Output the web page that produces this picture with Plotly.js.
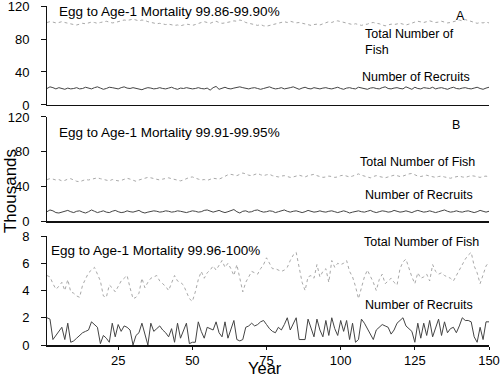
<!DOCTYPE html>
<html>
<head>
<meta charset="utf-8">
<script src="https://cdn.plot.ly/plotly-3.0.1.min.js"></script>
<style>html,body{margin:0;padding:0;background:#fff}#chart{width:500px;height:379px}</style>
</head>
<body>
<div id="chart"></div>
<script>
// Year index 1..150
const years = Array.from({length: 150}, (_, i) => i + 1);

// Panel A: mortality 99.86-99.90% (thousands)
const totalA = [
100,101,100.5,99.5,100,101,100,99,98.5,97.5,97,98,99,98.5,99.5,100.5,100,99,100,101,
101.5,100.5,99.5,100,101,102,103,102.5,103.5,104,103,102,103,102.5,101,100,99.5,98.5,99,98,
97.5,98,97,96.5,97,96,97,98,97.5,96.5,97.5,99,100,101,100,99,100.5,101.5,100,99,
99.5,100,101,102,101.5,103,102,100,99,98,97,96.5,97.5,96,95.5,96.5,97,98,99,100.5,
101,100,101.5,100.5,99.5,100,99,98,97.5,96.5,97.5,98,97,98.5,99.5,101,100,101.5,102,101,
100,99,98,97.5,98.5,97,96.5,97.5,98,99.5,100,99,98.5,97,96,97,98,97.5,98.5,99,
98,97,98,99.5,100.5,101.5,101,100,101,102,101,100,100.5,101.5,100.5,99.5,100,101,102.5,103,
102,103.5,102.5,101,100,99,100,99.5,100.5,99.5];
const recruitsA = [
20,22,21,19.5,21,20,19,20.5,19.5,20,21,19.5,20,21.5,20.5,19.5,21,22,20.5,19,
20,21.5,21,20,19.5,21,22,20.5,20,21,20,19.5,18.5,20,21,20.5,19.5,20,21,20,
19.5,20.5,21.5,20,19,20.5,20,21,20.5,19.5,20,21,20,19.5,20.5,18,21,22.5,19,20,
21.5,20,19.5,20.5,21,22,21,20,19.5,20.5,21,20,19,20,21,22,20.5,19.5,20,21,
19.5,20,21,22,20,19,20.5,21.5,20,19.5,21,20,19.5,20.5,21,20,19.5,20.5,21.5,20,
19,20.5,21,20,19.5,21.5,20.5,20,19,20.5,21,20,19.5,21,22,20,19.5,20.5,21,20,
19.5,22,20.5,19,21.5,20,19.5,21,20.5,20,21.5,19.5,20.5,21,20,19,20.5,21.5,20,19.5,
20.5,21,20,19.5,20.5,21.5,20,19,20.5,21.5];

// Panel B: mortality 99.91-99.95%
const totalB = [
48,49,48.5,47.5,48,46.5,47,48.5,49,47.5,46,45.5,46.5,48,47.5,48.5,49.5,50,49,48,
47,46.5,48,47.5,46.5,47,48,49.5,48.5,47,46,47.5,48.5,49,50.5,50,49,48,47.5,48.5,
49.5,50,49,48,47.5,46.5,47.5,49,50.5,51,49.5,48.5,47.5,48,47,48.5,49.5,49,48.5,50,
52,53.5,54,53,52.5,54,55.5,54.5,53,52.5,54,55,53.5,52.5,53.5,54,52.5,52,51,52,
52.5,51.5,50.5,51,52,53,52,51,52.5,53.5,54,52.5,51.5,50.5,51,52,51.5,50.5,51,52.5,
53,52,51,52,53.5,54.5,53,52,51,50,51.5,52.5,51.5,50.5,50,51,52,53,52.5,51.5,
52,53.5,54.5,55,53.5,52,51.5,52.5,53,52,51,50.5,51.5,52,51,50,49.5,50.5,51.5,52,
51,50.5,51.5,52.5,52,51,50.5,51.5,52,51];
const recruitsB = [
11,13,12,10,9.5,10.5,11,12.5,11,10,11.5,12,10.5,9.5,11,13,11.5,10,11,12,
10.5,10,11.5,12.5,11,10,10.5,12,11,10.5,11.5,12.5,10.5,9.5,10.5,11,12,11.5,10.5,11,
12,11.5,10.5,11,12,11.5,10.5,10,11,12,11.5,10.5,11,12.5,13,11.5,10.5,11.5,12.5,11,
10,11,12,13.5,11,9.5,11.5,12,10.5,11,12.5,13,11.5,10.5,11,12,11.5,10,11,12,
13,11.5,10.5,11.5,12,11,10,11,12.5,11.5,10.5,11,12,11,10.5,11.5,12,11,10,11,
12,11,9.5,10.5,11.5,12,11,10.5,11.5,12.5,11,10,11,12,11.5,10.5,11,12.5,11.5,10.5,
11,12,11,10,11.5,12.5,11.5,10.5,11,12,11,10,11,12,13,11.5,10.5,11,12,11,
10.5,11.5,12,11,10,11,12.5,11.5,10.5,11.5];

// Panel C: mortality 99.96-100%
const totalC = [
5.1,5.0,4.5,4.1,4.3,4.6,4.0,4.8,3.9,3.8,3.6,3.5,4.4,4.8,5.3,5.5,5.7,5.2,4.7,3.6,
3.5,4.4,4.2,3.9,4.3,4.7,4.9,5.1,4.2,3.4,3.5,3.8,4.9,4.2,4.6,4.9,5.0,5.1,4.7,4.5,
4.3,4.0,4.6,5.1,4.7,4.6,4.4,3.9,3.4,3.2,3.9,4.8,5.4,4.9,5.3,5.5,5.8,5.5,5.9,6.2,
5.7,6.0,5.6,5.1,5.9,4.8,3.9,4.6,5.0,5.4,5.3,5.2,5.6,5.9,6.4,6.0,5.6,5.6,5.5,5.4,
5.5,5.7,6.2,6.6,6.8,5.6,4.6,4.0,5.0,5.1,4.9,5.9,5.0,5.4,5.6,4.6,6.2,5.7,6.0,5.9,
6.0,6.2,5.4,5.0,4.3,3.4,4.2,5.0,5.5,5.1,4.6,4.0,4.8,5.2,4.5,4.7,4.9,4.6,4.4,5.6,
6.1,6.3,5.6,5.0,4.5,5.3,4.9,5.0,5.2,4.7,5.9,5.4,5.2,5.3,5.1,5.0,4.9,4.7,5.1,5.6,
5.9,6.3,6.6,6.8,5.8,5.3,4.5,5.2,5.8,6.1];
const recruitsC = [
2.0,1.9,0.4,0.7,1.0,1.3,0.4,1.6,0.2,0.3,0.5,0.7,0.9,1.0,1.1,1.7,1.5,1.3,0.1,0.7,
0.5,0.2,1.6,0.6,1.5,1.0,1.4,1.3,1.1,0.0,0.7,0.9,1.6,0.8,0.0,1.6,1.0,1.2,1.4,1.1,
0.9,0.6,1.2,0.2,1.6,0.5,1.0,1.6,0.1,0.2,0.2,1.7,1.0,0.5,1.3,1.2,1.1,1.7,0.9,0.6,
1.7,0.5,1.2,1.8,0.4,0.3,0.4,1.3,1.4,1.6,1.4,1.5,1.7,1.8,1.5,1.2,1.0,0.9,1.3,1.1,
1.5,2.0,1.1,1.5,2.0,0.4,0.4,0.4,1.9,1.2,0.6,1.9,1.1,0.6,1.8,0.7,2.0,1.2,0.7,1.8,
1.0,1.8,0.4,1.6,0.2,0.4,1.9,1.6,1.2,0.8,0.4,1.1,1.3,1.5,1.4,1.3,0.8,1.1,1.6,1.8,
2.0,1.4,1.2,1.0,0.2,1.6,0.5,1.6,0.7,1.8,0.6,1.2,1.9,0.7,1.7,0.9,1.2,1.3,0.9,1.4,
2.0,1.8,1.8,1.7,0.6,0.2,1.3,0.4,1.7,1.7];

const panelTitles = ['Egg to Age-1 Mortality 99.86-99.90%', 'Egg to Age-1 Mortality 99.91-99.95%', 'Egg to Age-1 Mortality 99.96-100%'];
const panelLetters = ['A', 'B', 'C'];
const xTicks = [25, 50, 75, 100, 125, 150];

const FONT = 'Liberation Sans, Arial, sans-serif';
const totalStyle = {color: '#a8a8a8', width: 1, dash: 'dot'};
const recStyle = {color: '#444', width: 1};

const traces = [
  {x: years, y: totalA, xaxis: 'x', yaxis: 'y', mode: 'lines', line: totalStyle},
  {x: years, y: recruitsA, xaxis: 'x', yaxis: 'y', mode: 'lines', line: recStyle},
  {x: years, y: totalB, xaxis: 'x2', yaxis: 'y2', mode: 'lines', line: totalStyle},
  {x: years, y: recruitsB, xaxis: 'x2', yaxis: 'y2', mode: 'lines', line: recStyle},
  {x: years, y: totalC, xaxis: 'x3', yaxis: 'y3', mode: 'lines', line: totalStyle},
  {x: years, y: recruitsC, xaxis: 'x3', yaxis: 'y3', mode: 'lines', line: recStyle}
];

function yax(domain, range, tickvals) {
  return {domain: domain, range: range, tickvals: tickvals, showgrid: false, zeroline: false,
    showline: true, linecolor: '#111', linewidth: 1, ticks: 'outside', ticklen: 5, tickcolor: '#111',
    ticklabelstandoff: 9, ticklabeloverflow: 'allow',
    tickfont: {family: FONT, size: 13, color: '#000'}};
}
function xax(anchor, labels) {
  return {anchor: anchor, range: [1, 150], showgrid: false, zeroline: false, showline: true,
    linecolor: '#111', linewidth: 1.5, tickvals: labels ? xTicks : [], ticks: labels ? 'outside' : '',
    ticklen: 3, tickcolor: '#111', showticklabels: labels, ticklabeloverflow: 'allow',
    tickfont: {family: FONT, size: 13, color: '#000'}};
}

const lblFont = {family: FONT, size: 12.5, color: '#000'};
const ttlFont = {family: FONT, size: 13.5, color: '#000'};
function ann(xr, yr, x, y, text, font, xanchor) {
  return {xref: xr, yref: yr, x: x, y: y, text: text, showarrow: false, font: font,
    xanchor: xanchor || 'left', yanchor: 'middle', align: 'left'};
}

const annotations = [
  ann('x', 'y', 4.5, 113, panelTitles[0], ttlFont),
  ann('x', 'y', 140.5, 108, panelLetters[0], lblFont, 'center'),
  ann('x', 'y', 107.5, 76, 'Total Number of<br>Fish', lblFont),
  ann('x', 'y', 106.5, 33.6, 'Number of Recruits', lblFont),
  ann('x2', 'y2', 4.5, 102, panelTitles[1], ttlFont),
  ann('x2', 'y2', 138.8, 111, panelLetters[1], lblFont, 'center'),
  ann('x2', 'y2', 106, 68.6, 'Total Number of Fish', lblFont),
  ann('x2', 'y2', 107.6, 30.3, 'Number of Recruits', lblFont),
  ann('x3', 'y3', 1.6, 6.97, panelTitles[2], ttlFont),
  ann('x3', 'y3', 137.9, 8.44, panelLetters[2], lblFont, 'center'),
  ann('x3', 'y3', 107.2, 7.54, 'Total Number of Fish', lblFont),
  ann('x3', 'y3', 107.6, 2.94, 'Number of Recruits', lblFont),
  {xref: 'paper', yref: 'paper', x: -0.083, y: 0.455, text: 'Thousands', textangle: -90, showarrow: false,
    font: {family: FONT, size: 17, color: '#000'}, xanchor: 'center', yanchor: 'middle'},
  {xref: 'paper', yref: 'paper', x: 0.494, y: -0.0975, text: 'Year', showarrow: false,
    font: {family: FONT, size: 16.5, color: '#000'}, xanchor: 'center', yanchor: 'bottom', borderpad: 0}
];

const layout = {
  width: 500, height: 379,
  margin: {l: 47, r: 11, t: 6, b: 34},
  paper_bgcolor: '#fff', plot_bgcolor: '#fff',
  showlegend: false,
  xaxis: xax('y', false),
  xaxis2: xax('y2', false),
  xaxis3: xax('y3', true),
  yaxis: yax([0.708, 1], [0, 120], [0, 40, 80, 120]),
  yaxis2: yax([0.365, 0.6726], [0, 120], [0, 40, 80, 120]),
  yaxis3: yax([0, 0.3215], [0, 8], [0, 2, 4, 6, 8]),
  annotations: annotations
};

Plotly.newPlot('chart', traces, layout, {displayModeBar: false, staticPlot: true});
</script>
</body>
</html>
